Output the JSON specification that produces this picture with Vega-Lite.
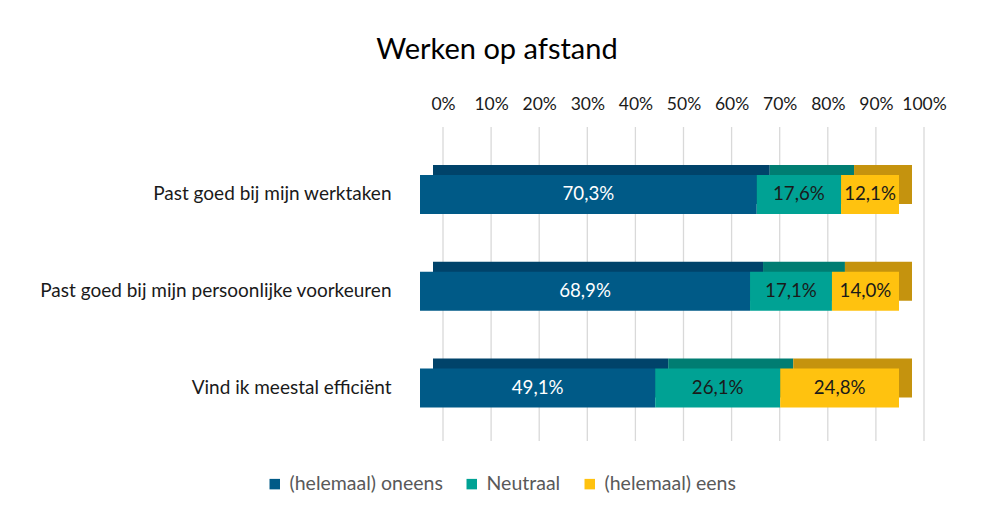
{
  "$schema": "https://vega.github.io/schema/vega-lite/v6.json",
  "width": 520,
  "height": 314,
  "autosize": "none",
  "padding": {"left": 420, "top": 127, "right": 41, "bottom": 72},
  "background": "white",
  "title": {
    "text": "Werken op afstand",
    "anchor": "middle",
    "dx": -183,
    "fontSize": 29,
    "font": "Lato",
    "fontWeight": "normal",
    "color": "#000000",
    "offset": 30
  },
  "config": {
    "locale": {"number": {"decimal": ",", "thousands": ".", "grouping": [3], "currency": ["€", ""]}},
    "font": "Lato",
    "view": {"stroke": null}
  },
  "datasets": {
    "bars": [
      {"cat": "Past goed bij mijn werktaken", "ans": "(helemaal) oneens", "o": 1, "value": 0.703},
      {"cat": "Past goed bij mijn werktaken", "ans": "Neutraal", "o": 2, "value": 0.176},
      {"cat": "Past goed bij mijn werktaken", "ans": "(helemaal) eens", "o": 3, "value": 0.121},
      {"cat": "Past goed bij mijn persoonlijke voorkeuren", "ans": "(helemaal) oneens", "o": 1, "value": 0.689},
      {"cat": "Past goed bij mijn persoonlijke voorkeuren", "ans": "Neutraal", "o": 2, "value": 0.171},
      {"cat": "Past goed bij mijn persoonlijke voorkeuren", "ans": "(helemaal) eens", "o": 3, "value": 0.140},
      {"cat": "Vind ik meestal efficiënt", "ans": "(helemaal) oneens", "o": 1, "value": 0.491},
      {"cat": "Vind ik meestal efficiënt", "ans": "Neutraal", "o": 2, "value": 0.261},
      {"cat": "Vind ik meestal efficiënt", "ans": "(helemaal) eens", "o": 3, "value": 0.248}
    ],
    "ticks": [
      {"v": 0}, {"v": 0.1}, {"v": 0.2}, {"v": 0.3}, {"v": 0.4}, {"v": 0.5},
      {"v": 0.6}, {"v": 0.7}, {"v": 0.8}, {"v": 0.9}, {"v": 1}
    ]
  },
  "resolve": {"scale": {"x": "independent", "color": "independent"}, "axis": {"x": "independent"}},
  "layer": [
    {
      "data": {"name": "ticks"},
      "mark": {"type": "rule", "color": "#d9d9d9", "strokeWidth": 1.3},
      "encoding": {
        "x": {
          "field": "v", "type": "quantitative",
          "scale": {"domain": [0, 1], "range": [23, 504], "nice": false, "zero": false},
          "axis": {
            "orient": "top", "format": ".0%", "values": [0, 0.1, 0.2, 0.3, 0.4, 0.5, 0.6, 0.7, 0.8, 0.9, 1],
            "domain": false, "ticks": false, "grid": false, "title": null,
            "labelOverlap": false, "labelFlush": false, "labelBound": false,
            "labelFontSize": 17.5, "labelColor": "#1a1a1a", "labelPadding": 14, "labelFont": "Lato"
          }
        }
      }
    },
    {
      "data": {"name": "bars"},
      "mark": {"type": "bar", "xOffset": 13, "x2Offset": 13, "yOffset": -10, "y2Offset": -10},
      "encoding": {
        "y": {"field": "cat", "type": "nominal", "sort": null},
        "x": {
          "field": "value", "type": "quantitative", "stack": "zero",
          "scale": {"domain": [0, 1], "range": [0, 479], "nice": false}, "axis": null
        },
        "order": {"field": "o", "type": "quantitative"},
        "color": {
          "field": "ans", "type": "nominal",
          "scale": {"domain": ["(helemaal) oneens", "Neutraal", "(helemaal) eens"], "range": ["#00436A", "#007D72", "#C5930E"]},
          "legend": null
        }
      }
    },
    {
      "data": {"name": "bars"},
      "mark": {"type": "bar"},
      "encoding": {
        "y": {
          "field": "cat", "type": "nominal", "sort": null,
          "scale": {"paddingInner": 0.597, "paddingOuter": 0.421, "align": 0.589},
          "axis": {
            "title": null, "domain": false, "ticks": false, "labelPadding": 29,
            "labelFontSize": 19, "labelColor": "#1a1a1a", "labelFont": "Lato", "labelLimit": 420
          }
        },
        "x": {
          "field": "value", "type": "quantitative", "stack": "zero",
          "scale": {"domain": [0, 1], "range": [0, 479], "nice": false}, "axis": null
        },
        "order": {"field": "o", "type": "quantitative"},
        "color": {
          "field": "ans", "type": "nominal",
          "scale": {"domain": ["(helemaal) oneens", "Neutraal", "(helemaal) eens"], "range": ["#005A87", "#00A294", "#FFC20F"]},
          "legend": {
            "title": null, "orient": "none", "direction": "horizontal",
            "legendX": -155, "legendY": 347,
            "symbolType": "square", "symbolSize": 110, "symbolStrokeWidth": 0,
            "labelFontSize": 19.5, "labelColor": "#595959", "labelFont": "Lato",
            "columnPadding": 19, "labelOffset": 5, "labelLimit": 300
          }
        }
      }
    },
    {
      "data": {"name": "bars"},
      "transform": [
        {"stack": "value", "groupby": ["cat"], "sort": [{"field": "o"}], "as": ["v0", "v1"]},
        {"calculate": "(datum.v0 + datum.v1) / 2", "as": "mid"}
      ],
      "mark": {"type": "text", "fontSize": 18.7, "font": "Lato"},
      "encoding": {
        "y": {"field": "cat", "type": "nominal", "sort": null},
        "x": {
          "field": "mid", "type": "quantitative",
          "scale": {"domain": [0, 1], "range": [0, 479], "nice": false}, "axis": null
        },
        "text": {"field": "value", "type": "quantitative", "format": ".1%"},
        "color": {
          "condition": {"test": "datum.ans === '(helemaal) oneens'", "value": "#ffffff"},
          "value": "#1a1a1a"
        }
      }
    }
  ]
}
